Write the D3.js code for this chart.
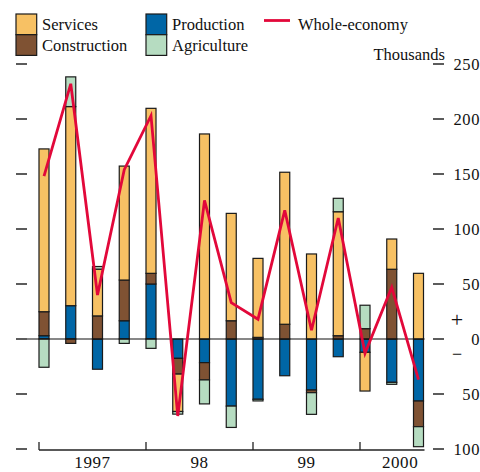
<!DOCTYPE html>
<html><head><meta charset="utf-8">
<script src="https://cdn.jsdelivr.net/npm/d3@7"></script>
<style>
html,body{margin:0;padding:0;background:#fff;}
svg{display:block;font-family:"Liberation Serif","DejaVu Serif",serif;}
</style></head>
<body><svg id="c" width="480" height="472"></svg>
<script>
const quarters = ["1997Q1","1997Q2","1997Q3","1997Q4","1998Q1","1998Q2","1998Q3","1998Q4","1999Q1","1999Q2","1999Q3","1999Q4","2000Q1","2000Q2","2000Q3"];
const services     = [148, 181, 42.5, 103.6, 150, -34, 186.4, 97.6, 71.8, 138.2, 77.3, 112.7, -35.2, 27.5, 59.7];
const construction = [21.8, -4, 21, 37, 9.7, -14.3, -15.7, 16.6, 1.5, 13.4, -2.4, 3, 9.4, 63.4, -23.3];
const production   = [3, 30.3, -27.5, 16.6, 50, -17.6, -21.5, -61, -54.8, -33.4, -46.4, -16.1, -12.1, -39.4, -56.4];
const agriculture  = [-25.7, 27, 2.4, -4, -8.5, -2.4, -21.8, -19.4, -1.5, 0, -19.7, 12.2, 21.3, -1.8, -18.2];
const wholeEconomy = [148, 232, 40, 154, 203, -70, 126, 33, 18, 117, 8, 110, -13, 47, -37];
const yearLabels = ["1997", "98", "99", "2000"];
const yTicks = [-100, -50, 0, 50, 100, 150, 200, 250];

const colors = {production:"#0066a6", construction:"#7f5233", services:"#f7c164", agriculture:"#b6dcc1"};
const keys = ["production","construction","services","agriculture"];
const table = quarters.map((q,i)=>({q, i, production:production[i], construction:construction[i], services:services[i], agriculture:agriculture[i]}));

const svg = d3.select("#c");
const x = d3.scaleLinear().domain([0, 15]).range([39, 440.25]);
const barW = x(0.374) - x(0);
const y = d3.scaleLinear().domain([-100, 250]).range([449, 64]);

// left and right ticks
svg.append("g").selectAll("line.l").data(yTicks).join("line")
  .attr("x1",16).attr("x2",27).attr("y1",d=>y(d)).attr("y2",d=>y(d))
  .attr("stroke","#333").attr("stroke-width",1.6);
svg.append("g").selectAll("line.r").data(yTicks).join("line")
  .attr("x1",433).attr("x2",444).attr("y1",d=>y(d)).attr("y2",d=>y(d))
  .attr("stroke","#333").attr("stroke-width",1.6);
svg.append("g").selectAll("text").data(yTicks).join("text")
  .attr("x",480).attr("y",d=>y(d)).attr("dy","0.36em").attr("text-anchor","end")
  .attr("font-size",16.5).attr("letter-spacing",0.6).attr("fill","#111")
  .text(d=>Math.abs(d));
svg.append("text").attr("x",457).attr("y",y(0)-19).attr("dy","0.33em").attr("text-anchor","middle")
  .attr("font-size",22).attr("fill","#111").text("+");
svg.append("text").attr("x",457).attr("y",y(0)+15).attr("dy","0.33em").attr("text-anchor","middle")
  .attr("font-size",18).attr("fill","#111").text("\u2212");
svg.append("text").attr("x",445).attr("y",60).attr("text-anchor","end")
  .attr("font-size",16.5).attr("fill","#111").text("Thousands");

// bars
const stack = d3.stack().keys(keys).offset(d3.stackOffsetDiverging)(table);
svg.append("g").selectAll("g").data(stack).join("g")
  .attr("fill",s=>colors[s.key])
  .selectAll("rect").data(s=>s).join("rect")
  .attr("x",d=>x(d.data.i)).attr("width",barW)
  .attr("y",d=>y(Math.max(d[0],d[1]))).attr("height",d=>Math.abs(y(d[0])-y(d[1])))
  .attr("stroke","#1a1a1a").attr("stroke-width",1.2);

// zero line
svg.append("line").attr("x1",27).attr("x2",x(14)+barW+1).attr("y1",y(0)).attr("y2",y(0))
  .attr("stroke","#111").attr("stroke-width",1.2);

// x axis
const axY = 450;
svg.append("line").attr("x1",x(0)).attr("x2",x(14)+barW+1).attr("y1",axY).attr("y2",axY)
  .attr("stroke","#222").attr("stroke-width",1.3);
svg.append("g").selectAll("line").data([0,4,8,12]).join("line")
  .attr("x1",d=>x(d)).attr("x2",d=>x(d)).attr("y1",axY-8).attr("y2",axY)
  .attr("stroke","#222").attr("stroke-width",1.3);
const yearStart = [0,4,8,12], yearLen = [4,4,4,3];
svg.append("g").selectAll("text").data(yearLabels).join("text")
  .attr("x",(d,k)=>x(yearStart[k] + yearLen[k]/2))
  .attr("y",468).attr("text-anchor","middle").attr("font-size",17).attr("letter-spacing",0.6)
  .attr("fill","#111").text(d=>d);

// line
svg.append("path").datum(wholeEconomy)
  .attr("d", d3.line().x((d,i)=>x(i)+barW/2).y(d=>y(d)))
  .attr("fill","none").attr("stroke","#e2083a").attr("stroke-width",2.8).attr("stroke-linejoin","miter");

// legend
const leg = [
  {k:"services", label:"Services", x:16, y:14},
  {k:"construction", label:"Construction", x:16, y:34.7},
  {k:"production", label:"Production", x:146, y:14},
  {k:"agriculture", label:"Agriculture", x:146, y:34.7}
];
const lg = svg.append("g");
lg.selectAll("rect").data(leg).join("rect")
  .attr("x",d=>d.x).attr("y",d=>d.y).attr("width",20.7).attr("height",20.7)
  .attr("fill",d=>colors[d.k]).attr("stroke","#1a1a1a").attr("stroke-width",1.2);
lg.selectAll("text").data(leg).join("text")
  .attr("x",d=>d.x+26).attr("y",d=>d.y+16).attr("font-size",16.5).attr("fill","#111").text(d=>d.label);
lg.append("line").attr("x1",264).attr("x2",290).attr("y1",20.5).attr("y2",20.5)
  .attr("stroke","#e2083a").attr("stroke-width",2.8);
lg.append("text").attr("x",298).attr("y",30).attr("font-size",16.5).attr("fill","#111").text("Whole-economy");
</script></body></html>
